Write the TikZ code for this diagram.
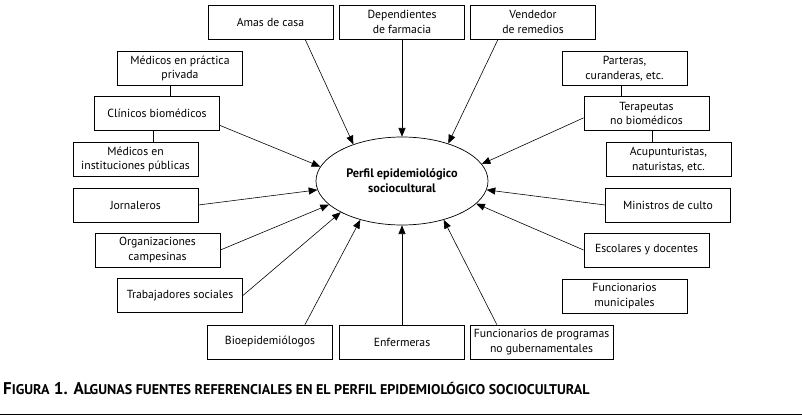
\documentclass[tikz,border=0pt]{standalone}
\usepackage{fontspec}
\setmainfont{PT Sans}
\usetikzlibrary{arrows.meta,shapes.geometric}
\tikzset{
    every node/.style={align=center,font=\fontsize{10}{12.5}\selectfont,},
    actor/.style={draw,rectangle,line width=.7pt,inner xsep=1pt,minimum width=3.75cm,minimum height=1.02cm,},
    hub/.style={draw,ellipse,line width=.6pt,minimum width=5.16cm,minimum height=2.64cm,font=\fontsize{10.5}{13}\selectfont\bfseries,},
    feed/.style={-{Triangle[length=2.6mm,width=2.1mm]},line width=.5pt,},
}

\begin{document}
\begin{tikzpicture}[x=0.03cm,y=-0.03cm]
                \useasboundingbox (0,0) rectangle (802,419);

                \node[hub] (perfil) at (402,181) {Perfil epidemiológico\\sociocultural};

                \node[actor] (amas) at (270.5,22) {Amas de casa};
                \node[actor] (depend) at (402,22) {Dependientes\\de farmacia};
                \node[actor] (vend) at (533,22) {Vendedor\\de remedios};

                \node[actor] (privada) at (180,68.5) {Médicos en práctica\\privada};
                \node[actor] (clinicos) at (157,113) {Clínicos biomédicos};
                \node[actor] (publicas) at (135.5,159.5) {Médicos en\\instituciones públicas};
                \node[actor] (jornal) at (135.5,205) {Jornaleros};
                \node[actor] (organiz) at (157.5,250) {Organizaciones\\campesinas};
                \node[actor] (trabaj) at (180,295.5) {Trabajadores sociales};

                \node[actor] (bioepi) at (270,342) {Bioepidemiólogos};
                \node[actor] (enferm) at (402,342) {Enfermeras};
                \node[actor,minimum width=4.29cm] (funcprog) at (541.5,342) {Funcionarios de programas\\no gubernamentales};

                \node[actor] (parteras) at (624.5,68.5) {Parteras,\\curanderas, etc.};
                \node[actor] (terap) at (646.5,113.5) {Terapeutas\\no biomédicos};
                \node[actor] (acupunt) at (668.5,159.5) {Acupunturistas,\\naturistas, etc.};
                \node[actor] (ministro) at (668,205) {Ministros de culto};
                \node[actor] (escolar) at (646.5,250) {Escolares y docentes};
                \node[actor] (funcmun) at (624.5,296) {Funcionarios\\municipales};

                % sub-groups
                \draw[line width=.6pt] ([xshift=-.28cm]privada.south) -- ([xshift=-.28cm]privada.south |- clinicos.north);
                \draw[line width=.6pt] ([xshift=-.12cm]clinicos.south) -- ([xshift=-.12cm]clinicos.south |- publicas.north);
                \draw[line width=.6pt] ([xshift=-.1cm]parteras.south) -- ([xshift=-.1cm]parteras.south |- terap.north);
                \draw[line width=.6pt] ([xshift=.17cm]terap.south) -- ([xshift=.17cm]terap.south |- acupunt.north);

                \draw[feed] ([xshift=1.04cm]amas.south) to (perfil.143);
                \draw[feed] (depend.south) to (perfil.90);
                \draw[feed] ([xshift=-1.05cm]vend.south) to (perfil.39);
                \draw[feed] ([yshift=-.13cm]terap.west) to (perfil.12);
                \draw[feed] (ministro.west) to (perfil.354);
                \draw[feed] (escolar.west) to (perfil.343);
                \draw[feed] ([xshift=-1.34cm]funcprog.north) to (perfil.317);
                \draw[feed] (enferm.north) to (perfil.270);
                \draw[feed] ([xshift=1.05cm]bioepi.north) to (perfil.223);
                \draw[feed] (trabaj.east) to (perfil.207);
                \draw[feed] (organiz.east) to (perfil.198);
                \draw[feed] (jornal.east) to (perfil.186);
                \draw[feed] ([yshift=.15cm]clinicos.south east) to (perfil.170);

                \node[anchor=base west,inner sep=0pt,font=\fontsize{14.5}{16}\selectfont\bfseries] (caption) at (3,394)
                    {F{\fontsize{12}{13}\selectfont IGURA} 1. A{\fontsize{12}{13}\selectfont LGUNAS FUENTES REFERENCIALES EN EL PERFIL EPIDEMIOLÓGICO SOCIOCULTURAL}};
                \draw[line width=.8pt] (0,414) -- (802,414);
            \end{tikzpicture}
\end{document}
